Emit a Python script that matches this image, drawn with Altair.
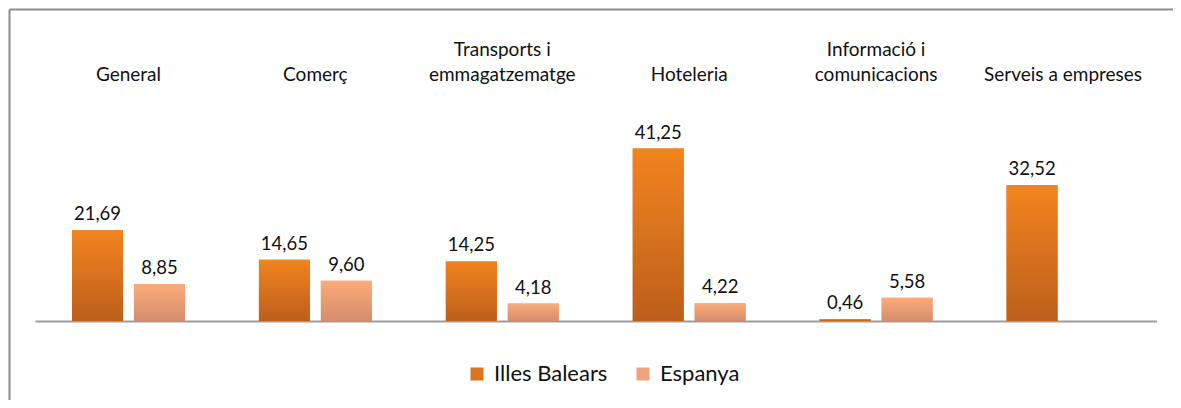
import altair as alt
import pandas as pd

categories = ["General", "Comerç", "Transports i\nemmagatzematge", "Hoteleria",
              "Informació i\ncomunicacions", "Serveis a empreses"]
series = ["Illes Balears", "Espanya"]
illes_balears = [21.69, 14.65, 14.25, 41.25, 0.46, 32.52]
espanya = [8.85, 9.60, 4.18, 4.22, 5.58, None]

rows = []
for c, a, b in zip(categories, illes_balears, espanya):
    for s, v in ((series[0], a), (series[1], b)):
        if v is None:
            continue
        rows.append({"cat": c, "serie": s, "valor": v,
                     "etiqueta": f"{v:.2f}".replace(".", ",")})
df = pd.DataFrame(rows)

cat_rows = []
for c in categories:
    parts = c.split("\n")
    top = parts[0] if len(parts) > 1 else ""
    cat_rows.append({"cat": c, "linia1": top, "linia2": parts[-1]})
cats_df = pd.DataFrame(cat_rows)

FONT = "Lato"
W, H = 1164, 391
BASE_Y = 312

x_enc = alt.X("cat:N", sort=categories,
              scale=alt.Scale(domain=categories, range=[26, 1147.5],
                              paddingInner=0, paddingOuter=0),
              axis=alt.Axis(orient="bottom", offset=-(H - BASE_Y), labels=False,
                            ticks=False, grid=False, title=None, domain=True,
                            domainColor="#9c9c9c", domainWidth=2))
xoff_enc = alt.XOffset("serie:N", sort=series,
                       scale=alt.Scale(domain=series, paddingInner=0.177, paddingOuter=0.597))
y_enc = alt.Y("valor:Q", axis=None,
              scale=alt.Scale(domain=[0, BASE_Y / 4.18], range=[BASE_Y, 0],
                              nice=False, zero=True))

grad_orange = {"gradient": "linear", "x1": 0, "y1": 0, "x2": 0, "y2": 1,
               "stops": [{"offset": 0, "color": "#F2841F"},
                         {"offset": 1, "color": "#BC5F1B"}]}
grad_light = {"gradient": "linear", "x1": 0, "y1": 0, "x2": 0, "y2": 1,
              "stops": [{"offset": 0, "color": "#FDAB7B"},
                        {"offset": 1, "color": "#D48D6C"}]}

base = alt.Chart(df)

legend_bars = base.mark_bar().encode(
    x=x_enc, xOffset=xoff_enc, y=y_enc,
    color=alt.Color("serie:N", sort=series,
                    scale=alt.Scale(domain=series, range=["#DE731F", "#F2A27A"]),
                    legend=alt.Legend(orient="none", legendX=457, legendY=354,
                                      direction="horizontal", title=None,
                                      symbolType="square", symbolSize=169,
                                      symbolStrokeWidth=0,
                                      labelFont=FONT, labelFontSize=22,
                                      labelColor="#111111", labelOffset=6,
                                      columnPadding=24, padding=0)),
)

grad_bars = base.mark_bar().encode(
    x=x_enc, xOffset=xoff_enc, y=y_enc,
    color=alt.condition(alt.datum.serie == "Illes Balears",
                        alt.value(grad_orange), alt.value(grad_light)),
)

value_labels = base.mark_text(font=FONT, fontSize=18.5, color="#111111",
                              baseline="alphabetic", dy=-10).encode(
    x=x_enc, xOffset=xoff_enc, y=y_enc, text="etiqueta:N")

cat_line2 = alt.Chart(cats_df).mark_text(font=FONT, fontSize=19, color="#111111",
                                          baseline="alphabetic").encode(
    x=x_enc, y=alt.value(72), text="linia2:N")
cat_line1 = alt.Chart(cats_df).mark_text(font=FONT, fontSize=19, color="#111111",
                                          baseline="alphabetic").encode(
    x=x_enc, y=alt.value(47), text="linia1:N")

bars_layer = alt.layer(legend_bars, grad_bars, value_labels, cat_line2, cat_line1)

# frame (left and top edges) drawn as axis domain lines of a unit scale
frame_df = pd.DataFrame({"u": [0.0, 1.0]})
frame = alt.Chart(frame_df).mark_point(opacity=0).encode(
    x=alt.X("u:Q", scale=alt.Scale(domain=[0, 1], nice=False),
            axis=alt.Axis(orient="top", labels=False, ticks=False, grid=False,
                          title=None, domainColor="#8c8c8c", domainWidth=2)),
    y=alt.Y("u:Q", scale=alt.Scale(domain=[0, 1], nice=False),
            axis=alt.Axis(orient="left", labels=False, ticks=False, grid=False,
                          title=None, domainColor="#8c8c8c", domainWidth=2)),
)

chart = alt.layer(bars_layer, frame).resolve_scale(
    x="independent", y="independent"
).properties(
    width=W, height=H,
    padding={"left": 1, "top": 1, "right": 0, "bottom": 0},
    autosize=alt.AutoSizeParams(type="none"),
).configure_view(strokeWidth=0)

chart.save("out.html", embed_options={"renderer": "svg", "actions": False})
